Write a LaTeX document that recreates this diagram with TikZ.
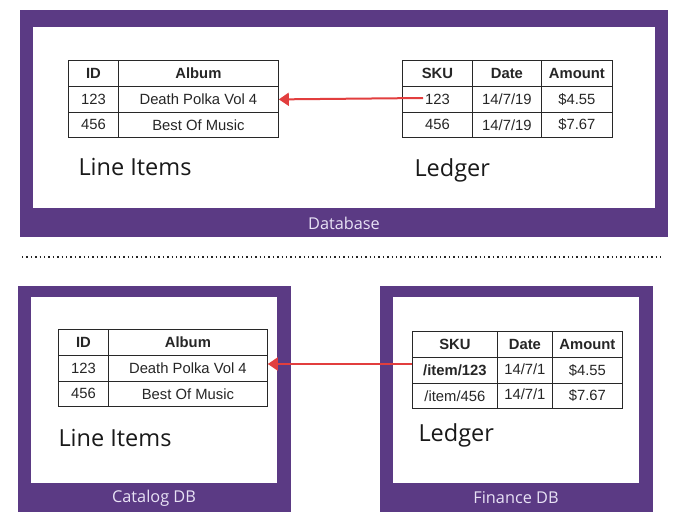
\documentclass[tikz,border=0pt]{standalone}
\usepackage{fontspec}
\setmainfont{Liberation Sans}
\newfontfamily\opensans{Open Sans}
\usetikzlibrary{arrows.meta}
\definecolor{dbpurple}{RGB}{91,58,132}
\definecolor{dblabel}{RGB}{232,226,245}
\definecolor{arrowred}{RGB}{226,62,62}
\definecolor{gridline}{RGB}{40,40,40}
\tikzset{
  cell/.style={draw=gridline, line width=0.8pt, anchor=north west, inner sep=0pt,
    font=\fontsize{14.8}{16}\selectfont, text=black!85},
  head/.style={cell, font=\fontsize{14.8}{16}\selectfont\bfseries},
  dbframe/.style={fill=dbpurple, draw=none},
  dbinner/.style={fill=white, draw=none},
  dblab/.style={text=dblabel, font=\opensans\fontsize{16.3}{18}\selectfont},
  bigname/.style={anchor=base west, font=\opensans\fontsize{23.5}{26}\selectfont, text=black!90},
  refarrow/.style={draw=arrowred, line width=2pt, -{Triangle[length=10pt,width=13pt]}},
}
\begin{document}
\begin{tikzpicture}[x=1pt,y=-1pt]
\useasboundingbox (0,0) rectangle (688,527);
\fill[white] (0,0) rectangle (688,527);

% ===== Top: Database =====
\fill[dbframe] (20,10) rectangle (668,237);
\fill[dbinner] (33,27) rectangle (655,208);
\node[dblab] (dblabel) at (344,223) {Database};

% left table
\node[head, minimum width=50pt, minimum height=26pt] (tl-h1) at (68,60) {ID};
\node[head, minimum width=160pt, minimum height=26pt] (tl-h2) at (118,60) {Album};
\node[cell, minimum width=50pt, minimum height=26pt] (tl-a1) at (68,86) {123};
\node[cell, minimum width=160pt, minimum height=26pt] (tl-a2) at (118,86) {Death Polka Vol 4};
\node[cell, minimum width=50pt, minimum height=25pt] (tl-b1) at (68,112) {456};
\node[cell, minimum width=160pt, minimum height=25pt] (tl-b2) at (118,112) {Best Of Music};
\node[bigname] (tl-name) at (75,175) {Line Items};

% right table
\node[head, minimum width=70pt, minimum height=26pt] (tr-h1) at (402,60) {SKU};
\node[head, minimum width=69pt, minimum height=26pt] (tr-h2) at (472,60) {Date};
\node[head, minimum width=71pt, minimum height=26pt] (tr-h3) at (541,60) {Amount};
\node[cell, minimum width=70pt, minimum height=26pt] (tr-a1) at (402,86) {123};
\node[cell, minimum width=69pt, minimum height=26pt] (tr-a2) at (472,86) {14/7/19};
\node[cell, minimum width=71pt, minimum height=26pt] (tr-a3) at (541,86) {\$4.55};
\node[cell, minimum width=70pt, minimum height=25pt] (tr-b1) at (402,112) {456};
\node[cell, minimum width=69pt, minimum height=25pt] (tr-b2) at (472,112) {14/7/19};
\node[cell, minimum width=71pt, minimum height=25pt] (tr-b3) at (541,112) {\$7.67};
\node[bigname] (tr-name) at (411,176) {Ledger};

\coordinate (topstart) at (423,98);
\draw[refarrow] (topstart) -- (tl-a2.east);

% dotted separator
\coordinate (sepL) at (22,257);
\coordinate (sepR) at (662,257);
\draw[line width=1.3pt, dash pattern=on 1.3pt off 3.1pt, black!85] (sepL) -- (sepR);

% ===== Bottom left: Catalog DB =====
\fill[dbframe] (18,286) rectangle (291,512);
\fill[dbinner] (31,297) rectangle (277,483);
\node[dblab] (catlabel) at (154,498) {Catalog DB};

\node[head, minimum width=50pt, minimum height=26pt] (bl-h1) at (58,329) {ID};
\node[head, minimum width=159pt, minimum height=26pt] (bl-h2) at (108,329) {Album};
\node[cell, minimum width=50pt, minimum height=26pt] (bl-a1) at (58,355) {123};
\node[cell, minimum width=159pt, minimum height=26pt] (bl-a2) at (108,355) {Death Polka Vol 4};
\node[cell, minimum width=50pt, minimum height=25pt] (bl-b1) at (58,381) {456};
\node[cell, minimum width=159pt, minimum height=25pt] (bl-b2) at (108,381) {Best Of Music};
\node[bigname] (bl-name) at (55,446) {Line Items};

% ===== Bottom right: Finance DB =====
\fill[dbframe] (380,286) rectangle (653,512);
\fill[dbinner] (393,297) rectangle (639,483);
\node[dblab] (finlabel) at (516,498) {Finance DB};

\node[head, minimum width=85pt, minimum height=26pt] (br-h1) at (412,331) {SKU};
\node[head, minimum width=55pt, minimum height=26pt] (br-h2) at (497,331) {Date};
\node[head, minimum width=70pt, minimum height=26pt] (br-h3) at (552,331) {Amount};
\node[head, minimum width=85pt, minimum height=26pt] (br-a1) at (412,357) {/item/123};
\node[cell, minimum width=55pt, minimum height=26pt] (br-a2) at (497,357) {\raisebox{3pt}{14/7/1}};
\node[cell, minimum width=70pt, minimum height=26pt] (br-a3) at (552,357) {\$4.55};
\node[cell, minimum width=85pt, minimum height=25pt] (br-b1) at (412,383) {/item/456};
\node[cell, minimum width=55pt, minimum height=25pt] (br-b2) at (497,383) {\raisebox{3pt}{14/7/1}};
\node[cell, minimum width=70pt, minimum height=25pt] (br-b3) at (552,383) {\$7.67};
\node[bigname] (br-name) at (415,441) {Ledger};

\draw[refarrow] (br-a1.west |- 0,364) -- (bl-a2.east |- 0,364);
\end{tikzpicture}
\end{document}
